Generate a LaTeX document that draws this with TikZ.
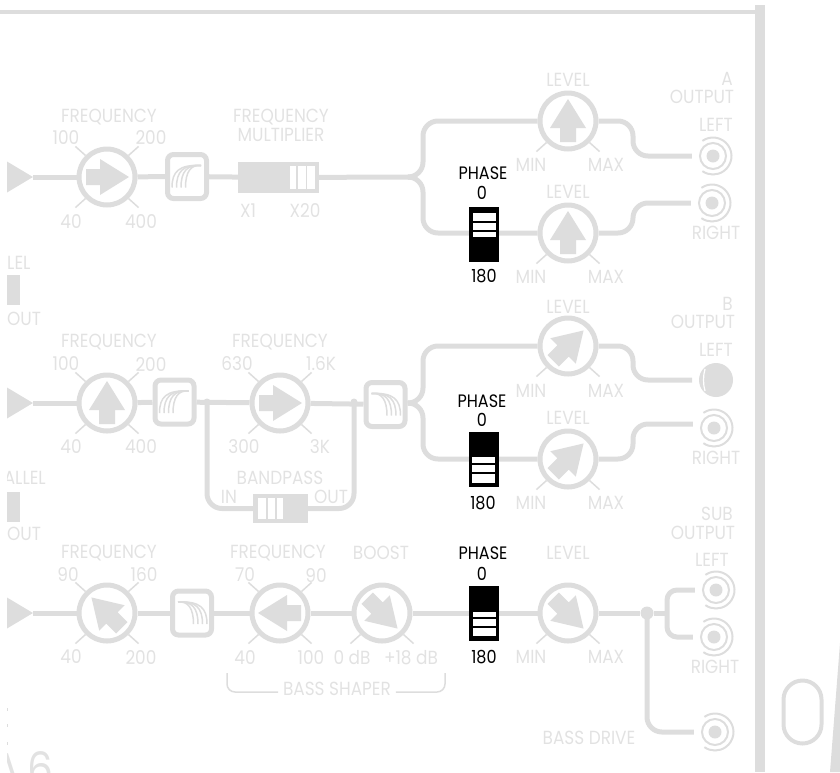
\documentclass[tikz,border=0pt]{standalone}
\usepackage{fontspec}
\setmainfont[FakeStretch=0.89]{Poppins}
\usetikzlibrary{backgrounds}
\definecolor{panel}{HTML}{DDDDDD}
\definecolor{ink}{HTML}{E2E2E2}

\begin{document}
\begin{tikzpicture}[x=1pt,y=-1pt,
 font=\fontsize{19}{20}\selectfont,
 lbl/.style={text=ink,inner sep=0},
 phaselbl/.style={text=black,inner sep=0,font=\fontsize{18}{19}\selectfont},
 knob/.style={draw=panel,line width=5pt,circle,fill=white,inner sep=0,minimum size=56pt},
 filterbox/.style={draw=panel,line width=5pt,fill=white,rounded corners=6pt,inner sep=0,minimum width=39pt,minimum height=44pt},
 slide/.style={fill=panel,inner sep=0,minimum width=81pt,minimum height=31pt},
 phasebox/.style={fill=black,inner sep=0,minimum width=30pt,minimum height=55pt},
 wire/.style={draw=panel,line width=5pt},
 tick/.style={draw=panel,line width=1.5pt},
 tap/.style={circle,fill=panel,inner sep=0,minimum size=7pt},
 jack/.style={circle,inner sep=0,minimum size=42pt,path picture={
   \fill[panel] (path picture bounding box.center) circle (6.5pt);
   \draw[panel,line width=2pt] (path picture bounding box.center) circle (13pt);
   \draw[panel,line width=2pt] (path picture bounding box.center) ++(125:18.5pt) arc (125:-125:18.5pt);}},
 needle/.pic={\fill[panel] (0,-22)--(18,7)--(8,7)--(8,21)--(-8,21)--(-8,7)--(-18,7)--cycle;},
 fan/.pic={\foreach \e/\c in {-15/-8,-10.5/-4,-6/0,-1.5/4}
   \draw[panel,line width=1.5pt] (14,-11) .. controls (\c,-12) and (\e,-5) .. (\e,11);}]
 \useasboundingbox (0,0) rectangle (840,772);

 % frame of the panel
 \fill[panel] (0,10) rectangle (755,14);
 \fill[panel] (755,5) rectangle (765,772);
 \node[draw=panel,line width=4pt,inner sep=0,rounded corners=19pt,minimum width=38pt,minimum height=63pt] (slot) at (802.5,712) {};
 \fill[panel] (840,643)--(840,772)--(830,772)--cycle;

 % inputs
 \foreach \n/\y in {inA/177,inB/403,inS/613} {
  \fill[panel] (7,\y-15.5)--(33,\y)--(7,\y+15.5)--cycle;
  \coordinate (\n) at (33,\y);
 }

 % knobs
 \foreach \n/\x/\y/\r in {fqA/107/177/-90,lvA/568/121/0,lwA/568/233/0,
   fqB/107/403/0,bpB/280/403/-90,lvB/568/346/-45,lwB/568/459/-45,
   fqS/107/613/45,shS/280/613/90,boS/382/613/-135,lvS/568/613/-135} {
  \node[knob] (\n) at (\x,\y) {};
  \pic[rotate=\r] at (\x,\y) {needle};
 }
 \foreach \n in {fqA,fqB,bpB,fqS,shS} {
  \draw[tick] (\n.135) -- ++(-10,-9);
  \draw[tick] (\n.45) -- ++(10,-9);
 }
 \foreach \n in {fqA,lvA,lwA,fqB,bpB,lvB,lwB,fqS,shS,boS,lvS} {
  \draw[tick] (\n.-135) -- ++(-10,9);
  \draw[tick] (\n.-45) -- ++(10,9);
 }

 % filters
 \node[filterbox] (fiA) at (187,176.5) {};
 \node[filterbox] (fiB) at (174.5,402) {};
 \node[filterbox] (fiC) at (385.5,404.5) {};
 \node[filterbox] (fiS) at (192,613) {};
 \pic at (fiA) {fan};
 \pic at (fiB) {fan};
 \pic[xscale=-1] at (fiC) {fan};
 \pic[xscale=-1] at (fiS) {fan};

 % slide switches
 \node[slide] (mult) at (278.5,177.5) {};
 \foreach \a/\b in {290/296,298/306,307/315}
  \fill[white] (\a,166) rectangle (\b,189);
 \node[slide,minimum width=55pt,minimum height=29pt] (band) at (280.5,508.5) {};
 \foreach \a/\b in {258/265.5,267.5/275,277/283}
  \fill[white] (\a,498) rectangle (\b,519);
 \node[fill=panel,inner sep=0,minimum width=13pt,minimum height=30pt] (parA) at (13.5,290) {};
 \node[fill=panel,inner sep=0,minimum width=13pt,minimum height=30pt] (parB) at (13,507) {};

 % phase switches
 \node[phasebox] (phA) at (484,234.5) {};
 \node[phasebox] (phB) at (483.5,459.5) {};
 \node[phasebox] (phS) at (484,613.5) {};
 \foreach \a/\b in {213/221,223/230,231.5/236.5}
  \fill[white] (473,\a) rectangle (496,\b);
 \foreach \a/\b in {457/463,465/472,474/483}
  \fill[white] (472,\a) rectangle (495,\b);
 \foreach \a/\b in {612/617,619/626,628/636}
  \fill[white] (473,\a) rectangle (496,\b);

 % jacks
 \node[jack] (jAL) at (713,156) {};
 \node[jack] (jAR) at (712,203) {};
 \node[circle,fill=panel,inner sep=0,minimum size=34pt] (jBL) at (716,380) {};
 \draw[white,line width=1.2pt] (705,369) .. controls (703,376) and (703,384) .. (705,391);
 \coordinate (jBLin) at (692,380);
 \node[jack] (jBR) at (714,428) {};
 \node[jack] (jSL) at (716,590) {};
 \node[jack] (jSR) at (714,637) {};
 \node[jack] (jSD) at (715,732) {};

 % labels
 \foreach \n/\t/\x/\y in {
   a1/FREQUENCY/109/117,a2/100/66/138,a3/200/151/138,a4/40/71/222,a5/400/141/222,
   a6/FREQUENCY/281/117,a7/MULTIPLIER/281/135,a8/X1/248/211,a9/X20/305/211,
   a10/LEVEL/568/80,a11/MIN/531/165,a12/MAX/606/165,
   a13/LEVEL/568/192,a14/MIN/531/277,a15/MAX/606/277,
   a17/OUTPUT/702/97,a18/LEFT/716/125,a19/RIGHT/716/233,
   b1/FREQUENCY/109/342,b2/100/66/364,b3/200/151/364,b4/40/71/447,b5/400/141/447,
   b6/FREQUENCY/280/342,b7/630/237/364,b8/1.6K/321/364,b9/300/244/447,b10/3K/320/447,
   b11/BANDPASS/280/478,b12/IN/229/497,b13/OUT/331/497,
   b14/LEVEL/568/307,b15/MIN/531/391,b16/MAX/606/391,
   b17/LEVEL/568/418,b18/MIN/531/503,b19/MAX/606/503,
   b21/OUTPUT/703/322,b22/LEFT/716/350,b23/RIGHT/716/458,
   s1/FREQUENCY/109/553,s2/90/68/574,s3/160/144/574,s4/40/71/657,s5/200/141/657,
   s6/FREQUENCY/278/553,s7/BOOST/381/553,s8/70/245/575,s9/90/316/575,s10/40/245/658,
   s11/100/311/658,s12/0 dB/352/658,s13/+18 dB/411/658,s14/BASS SHAPER/337/689,
   s15/LEVEL/568/553,s16/MIN/531/657,s17/MAX/606/657,
   s19/OUTPUT/703/533,s20/LEFT/712/560,s21/RIGHT/715/667,s22/BASS DRIVE/589/738}
  \node[lbl] (\n) at (\x,\y) {\t};
 \node[lbl,anchor=east] (a16) at (733,79) {A};
 \node[lbl,anchor=east] (b20) at (733,304) {B};
 \node[lbl,anchor=east] (s18) at (733,514) {SUB};
 \node[lbl,anchor=west] (a20) at (7,319) {OUT};
 \node[lbl,anchor=west] (b24) at (7,534) {OUT};
 \begin{scope}
  \clip (7,0) rectangle (840,772);
  \node[lbl,anchor=west] (a21) at (7,263) {LEL};
  \node[lbl,anchor=east] (b25) at (46,478) {ALLEL};
  \node[lbl,anchor=base east,font=\fontsize{46}{48}\selectfont] (n6) at (54,785) {A\hspace{-3pt} 6};
 \end{scope}
 \foreach \y in {709,725,743}
  \fill[panel] (7,\y-1.5) rectangle (8,\y+1.5);

 \foreach \n/\t/\x/\y in {pa1/PHASE/483/173,pa2/0/482/193,pa3/180/484/276,
   pb1/PHASE/482/401,pb2/0/482/420,pb3/180/483/503,
   ps1/PHASE/483/553,ps2/0/482/574,ps3/180/484/657}
  \node[phaselbl] (\n) at (\x,\y) {\t};

 % shaper bracket
 \draw[panel,line width=1.5pt,rounded corners=8pt] (227,673) -- (227,692) -- (s14.west|-227,692) -- ++(-5,0);
 \draw[panel,line width=1.5pt,rounded corners=8pt] (445,673) -- (445,692) -- (s14.east|-445,692) -- ++(5,0);

 % wiring
 \begin{scope}[on background layer]
  \coordinate (spA) at (411,177);
  \coordinate (spB) at (411,403);
  \node[tap] (tapL) at (207,402) {};
  \node[tap] (tapR) at (354,402) {};
  \node[tap,minimum size=13pt] (tapS) at (647,613) {};
  \draw[wire] (inA) -- (fqA);
  \draw[wire] (fqA) -- (fiA);
  \draw[wire] (fiA) -- (mult);
  \draw[wire] (mult) -- (spA);
  \draw[wire,rounded corners=15pt] (lvA.west) -- (423,121) -- (423,177) [rounded corners=10pt] -- (spA);
  \draw[wire,rounded corners=15pt] (lwA.west) -- (423,233) -- (423,177) [rounded corners=10pt] -- (spA);
  \draw[wire,rounded corners=15pt] (lvA.east) -- (633,121) -- (633,156) -- (jAL.west);
  \draw[wire,rounded corners=15pt] (lwA.east) -- (633,233) -- (633,203) -- (jAR.west);

  \draw[wire] (inB) -- (fqB);
  \draw[wire] (fqB) -- (fiB);
  \draw[wire] (fiB) -- (bpB);
  \draw[wire] (bpB) -- (fiC);
  \draw[wire,rounded corners=15pt] (tapL.center) -- (207,508.5) -- (band.west);
  \draw[wire,rounded corners=15pt] (tapR.center) -- (354,508.5) -- (band.east);
  \draw[wire] (fiC) -- (spB);
  \draw[wire,rounded corners=15pt] (lvB.west) -- (423,346) -- (423,403) [rounded corners=10pt] -- (spB);
  \draw[wire,rounded corners=15pt] (lwB.west) -- (423,459) -- (423,403) [rounded corners=10pt] -- (spB);
  \draw[wire,rounded corners=15pt] (lvB.east) -- (633,346) -- (633,380) -- (jBLin);
  \draw[wire,rounded corners=15pt] (lwB.east) -- (633,459) -- (633,424) -- (jBR.west|-633,424);

  \draw[wire] (inS) -- (fqS);
  \draw[wire] (fqS) -- (fiS);
  \draw[wire] (fiS) -- (shS);
  \draw[wire] (shS) -- (boS);
  \draw[wire] (boS) -- (lvS);
  \draw[wire] (lvS) -- (tapS);
  \draw[wire] (tapS) -- (667,613);
  \draw[wire,rounded corners=10pt] (jSL.west) -- (667,590) -- (667,637) -- (jSR.west);
  \draw[wire,rounded corners=15pt] (tapS.center) -- (647,732) -- (jSD.west);
 \end{scope}
\end{tikzpicture}
\end{document}
